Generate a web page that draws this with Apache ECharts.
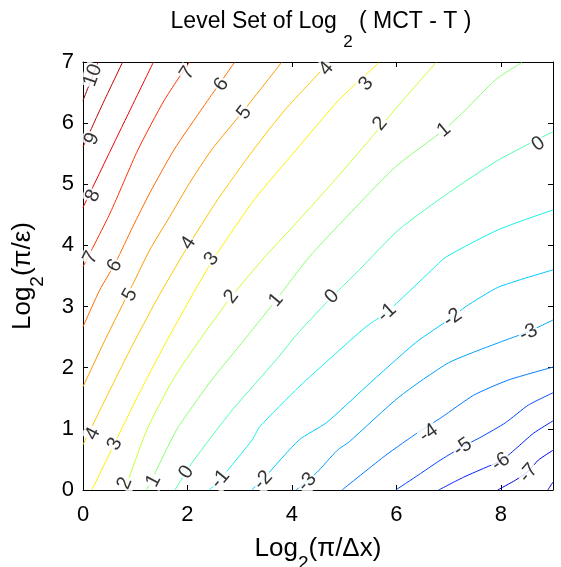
<!DOCTYPE html>
<html><head><meta charset="utf-8">
<script src="https://cdn.jsdelivr.net/npm/echarts@6/dist/echarts.min.js"></script>
<style>html,body{margin:0;padding:0;background:#fff}#c{width:561px;height:567px}</style>
</head><body><div id="c"></div>
<script>
// ---- data ----
const levels = [10, 9, 8, 7, 6, 5, 4, 3, 2, 1, 0, -1, -2, -3, -4, -5, -6, -7, -8];
const c10 = [[0,6.37],[0.29,7.0]];
const c9  = [[0,5.61],[0.38,6.32],[0.76,7.0]];
const c8  = [[0,4.62],[0.53,5.56],[0.95,6.30],[1.35,7.0]];
const c7  = [[0,3.65],[0.52,4.53],[1.05,5.56],[1.56,6.38],[2.04,7.0]];
const c6  = [[0,2.67],[0.32,3.27],[0.63,3.73],[0.95,4.30],[1.28,4.86],[1.74,5.56],[2.33,6.30],[2.90,6.99]];
const c5  = [[0,1.69],[0.42,2.45],[0.95,3.36],[1.28,3.93],[1.66,4.47],[2.04,5.02],[2.46,5.56],[3.09,6.22],[3.80,6.99]];
const c4  = [[0,0.74],[0.42,1.47],[0.90,2.29],[1.41,3.11],[1.97,3.93],[2.58,4.75],[3.26,5.56],[3.87,6.22],[4.71,6.99]];
const c3  = [[0.17,0],[0.61,0.77],[1.01,1.47],[1.51,2.29],[2.04,3.11],[2.50,3.78],[3.28,4.75],[4.08,5.56],[4.90,6.38],[5.67,6.99]];
const c2  = [[0.80,0],[1.22,0.98],[1.72,1.80],[2.23,2.45],[2.84,3.16],[3.47,3.80],[4.14,4.42],[4.77,5.02],[5.42,5.66],[6.05,6.30],[6.76,6.99]];
const c1  = [[1.22,0],[1.34,0.21],[1.79,0.98],[2.42,1.75],[3.13,2.50],[3.70,3.11],[4.33,3.81],[5.23,4.63],[5.99,5.29],[6.91,5.89],[7.33,6.22],[7.90,6.71],[8.40,6.99]];
const c0  = [[1.76,0],[2.10,0.46],[2.86,1.31],[3.70,2.13],[4.14,2.59],[4.77,3.16],[5.29,3.60],[6.05,4.26],[7.00,4.86],[7.96,5.40],[9.0,5.86]];
const cm1 = [[2.42,0],[2.65,0.20],[3.24,0.82],[3.38,1.03],[4.14,1.69],[4.77,2.18],[5.42,2.67],[5.82,2.91],[6.68,3.60],[6.95,3.81],[7.96,4.26],[9.0,4.58]];
const cm2 = [[3.23,0],[3.47,0.20],[4.14,0.82],[4.66,1.10],[5.42,1.69],[6.37,2.41],[7.06,2.82],[7.33,3.00],[7.96,3.32],[9.0,3.60]];
const cm3 = [[4.08,0],[4.47,0.28],[4.87,0.65],[5.10,0.79],[6.05,1.52],[7.00,2.08],[7.96,2.41],[8.53,2.59],[9.0,2.78]];
const cm4 = [[4.96,0],[5.80,0.57],[6.43,0.95],[6.87,1.19],[7.48,1.55],[8.15,1.80],[9.0,2.01]];
const cm5 = [[5.99,0],[6.43,0.25],[6.81,0.47],[7.25,0.70],[7.63,0.87],[8.09,1.10],[8.53,1.39],[9.0,1.59]];
const cm6 = [[6.81,0],[7.29,0.21],[7.77,0.39],[8.00,0.47],[8.28,0.67],[8.63,0.93],[9.0,1.13]];
const cm7 = [[7.94,0],[8.28,0.16],[8.53,0.31],[8.72,0.49],[9.0,0.65]];
const cm8 = [[8.90,0],[9.0,0.13]];
const contours = [c10,c9,c8,c7,c6,c5,c4,c3,c2,c1,c0,cm1,cm2,cm3,cm4,cm5,cm6,cm7,cm8];

// contour label positions [x, y, text]
const labelPts = [
  [0.19,6.78,'10'],[0.17,5.74,'9'],[0.19,4.81,'8'],[0.15,3.80,'7'],[2.00,6.82,'7'],
  [2.65,6.63,'6'],[0.61,3.67,'6'],[3.09,6.17,'5'],[0.90,3.19,'5'],
  [4.66,6.89,'4'],[2.02,4.04,'4'],[0.19,0.92,'4'],
  [5.42,6.64,'3'],[2.46,3.78,'3'],[0.61,0.75,'3'],
  [5.69,5.99,'2'],[2.84,3.16,'2'],[0.80,0.11,'2'],
  [6.91,5.89,'1'],[3.70,3.11,'1'],[1.35,0.15,'1'],
  [8.72,5.66,'0'],[4.77,3.16,'0'],[1.98,0.29,'0'],
  [5.82,2.90,'-1'],[2.63,0.18,'-1'],
  [7.08,2.82,'-2'],[3.45,0.16,'-2'],
  [8.53,2.57,'-3'],[4.29,0.13,'-3'],
  [6.62,0.93,'-4'],[7.27,0.70,'-5'],[8.00,0.46,'-6'],[8.53,0.28,'-7']
];
const xTickVals = [0, 2, 4, 6, 8];
const yTickVals = [0, 1, 2, 3, 4, 5, 6, 7];

// ---- styles ----
const lineColors = ['#900000','#c00000','#f00000','#ff3000','#ff6a00','#ff9a00','#ffc800','#fff000',
  '#c8ff37','#8cff73','#50ffaf','#14f0eb','#00c8ff','#00a0ff','#0078ff','#0046ff','#001eff','#0000e6','#0000c0'];
const labelAngles = [70,66,64,62,57, 55,60,52,60, 50,57,63, 48,52,63, 50,52,68, 40,50,62, 35,45,55,
  42,50, 35,48, 25,48, 35,35,35,50];

const FONT = '"Liberation Sans", Arial, Helvetica, sans-serif';
const chart = echarts.init(document.getElementById('c'), null, {renderer:'canvas'});

const series = contours.map((d, i) => ({
  type: 'line', name: String(levels[i]), data: d, showSymbol: false, symbol: 'none',
  smooth: 0.2, clip: true, silent: true, animation: false, z: 2,
  lineStyle: {width: 1, color: lineColors[i]}
}));
series.push({
  type: 'scatter', symbolSize: 0, silent: true, animation: false, z: 5,
  data: labelPts.map((p, i) => ({
    value: [p[0], p[1]],
    label: {show: true, position: 'inside', formatter: p[2], rotate: labelAngles[i]}
  })),
  label: {color: '#000', fontSize: 20, fontFamily: FONT, backgroundColor: '#fff', padding: [0, 1]}
});

const axisCommon = {
  type: 'value', splitLine: {show: false},
  axisLine: {show: true, onZero: false, lineStyle: {color: '#000', width: 1}},
  axisTick: {show: true, inside: true, length: 5, lineStyle: {color: '#000'}}
};
const nameRich = {
  a: {fontSize: 26, fontFamily: FONT, color: '#000', lineHeight: 30, verticalAlign: 'top'},
  s: {fontSize: 19, fontFamily: FONT, color: '#000', lineHeight: 21, verticalAlign: 'top', padding: [18, 0, 0, 0]}
};

chart.setOption({
  animation: false,
  backgroundColor: '#fff',
  title: {
    text: '{a|Level Set of Log }{s|2}{a| ( MCT - T )}',
    left: 316, top: 5, textAlign: 'center',
    textStyle: {
      fontWeight: 'normal',
      rich: {
        a: {fontSize: 23, fontFamily: FONT, color: '#000', fontWeight: 'normal', lineHeight: 26, verticalAlign: 'top'},
        s: {fontSize: 17, fontFamily: FONT, color: '#000', fontWeight: 'normal', lineHeight: 19, verticalAlign: 'top', padding: [24, 0, 0, 0]}
      }
    }
  },
  grid: {left: 83, right: 8, top: 62, bottom: 77, outerBoundsMode: 'none', containLabel: false},
  xAxis: [
    Object.assign({}, axisCommon, {
      position: 'bottom', min: 0, max: 9, interval: 2,
      axisLabel: {show: true, fontSize: 22, fontFamily: FONT, color: '#000', margin: 14, showMaxLabel: false,
        formatter: v => xTickVals.includes(v) ? String(v) : ''},
      name: '{a|Log}{s|2}{a|(π/Δx)}', nameLocation: 'middle', nameGap: 46,
      nameTextStyle: {rich: nameRich}
    }),
    Object.assign({}, axisCommon, {
      position: 'top', min: 0, max: 9, interval: 2, axisLabel: {show: false}
    })
  ],
  yAxis: [
    Object.assign({}, axisCommon, {
      position: 'left', min: 0, max: 7, interval: 1,
      axisLabel: {show: true, fontSize: 22, fontFamily: FONT, color: '#000', margin: 9,
        formatter: v => yTickVals.includes(v) ? String(v) : ''},
      name: '{a|Log}{s|2}{a|(π/ε)}', nameLocation: 'middle', nameGap: 43,
      nameTextStyle: {rich: nameRich}
    }),
    Object.assign({}, axisCommon, {
      position: 'right', min: 0, max: 7, interval: 1, axisLabel: {show: false}
    })
  ],
  series: series
});
</script></body></html>
